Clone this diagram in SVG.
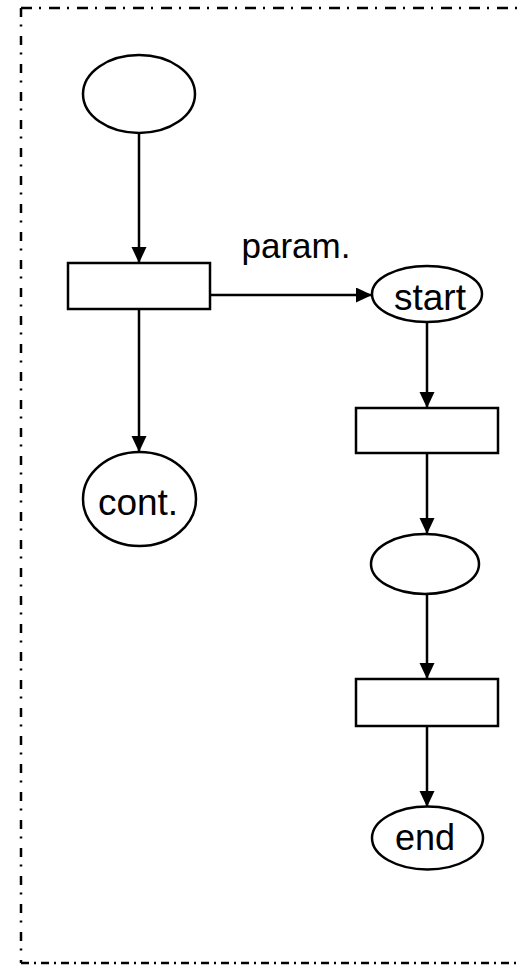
<svg xmlns="http://www.w3.org/2000/svg" width="518" height="965" viewBox="0 0 518 965">
<style>
.n{fill:#fff;stroke:#000;stroke-width:2.5}
.c{stroke:#000;stroke-width:2.5;fill:none}
.t{font-family:"Liberation Sans",Arial,sans-serif;fill:#000;text-anchor:middle}
.f{stroke:#000;stroke-width:2.5;fill:none}
</style>
<defs>
<marker id="ah" markerUnits="userSpaceOnUse" markerWidth="16" markerHeight="16" refX="16" refY="7.5" orient="auto">
<path d="M0,0 L16,7.5 L0,15 z" fill="#000"/>
</marker>
</defs>
<rect width="518" height="965" fill="#fff"/>
<g id="frame">
<line class="f" x1="21" y1="8" x2="530" y2="8" stroke-dasharray="11 7 2 8"/>
<line class="f" x1="21" y1="8" x2="21" y2="963" stroke-dasharray="9 7.5 2 9.5"/>
<line class="f" x1="21" y1="963" x2="530" y2="963" stroke-dasharray="8 5 2 5"/>
</g>
<g id="connectors">
<line class="c" x1="139" y1="133" x2="139" y2="263" marker-end="url(#ah)"/>
<line class="c" x1="210" y1="295" x2="372" y2="295" marker-end="url(#ah)"/>
<line class="c" x1="139" y1="309" x2="139" y2="452" marker-end="url(#ah)"/>
<line class="c" x1="427" y1="322" x2="427" y2="408" marker-end="url(#ah)"/>
<line class="c" x1="427" y1="453" x2="427" y2="534" marker-end="url(#ah)"/>
<line class="c" x1="427" y1="594" x2="427" y2="679" marker-end="url(#ah)"/>
<line class="c" x1="427" y1="726" x2="427" y2="807" marker-end="url(#ah)"/>
<text class="t" x="296" y="258" font-size="35">param.</text>
</g>
<g id="p0"><ellipse class="n" cx="139" cy="94" rx="56" ry="39"/></g>
<g id="t1"><rect class="n" x="68" y="263" width="142" height="46"/></g>
<g id="start"><ellipse class="n" cx="427" cy="294" rx="55" ry="28"/><text class="t" x="430" y="310" font-size="37">start</text></g>
<g id="cont"><ellipse class="n" cx="139.5" cy="499" rx="56.5" ry="47"/><text class="t" x="138" y="515" font-size="37">cont.</text></g>
<g id="t2"><rect class="n" x="356" y="408" width="142" height="45"/></g>
<g id="p1"><ellipse class="n" cx="425" cy="564" rx="54" ry="30"/></g>
<g id="t3"><rect class="n" x="356" y="679" width="142" height="47"/></g>
<g id="end"><ellipse class="n" cx="427.5" cy="838" rx="55.5" ry="31.5"/><text class="t" x="425" y="850" font-size="36">end</text></g>
</svg>
